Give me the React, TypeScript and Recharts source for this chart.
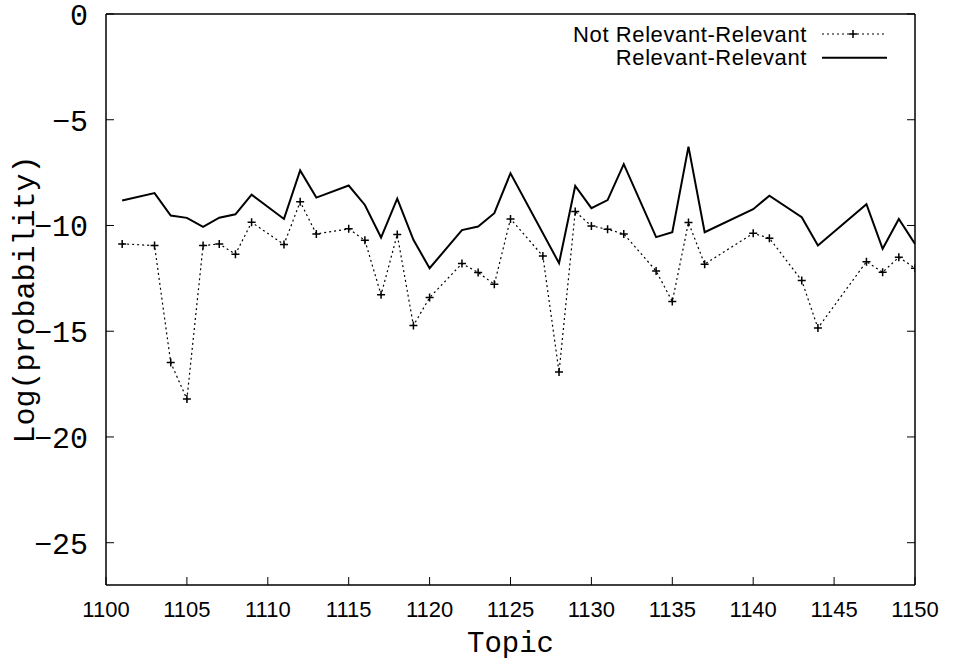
import React from 'react';
import { LineChart, Line, XAxis, YAxis, Legend } from 'recharts';

const topics = [
  1101, 1103, 1104, 1105, 1106, 1107, 1108, 1109, 1111, 1112, 1113, 1115, 1116,
  1117, 1118, 1119, 1120, 1122, 1123, 1124, 1125, 1127, 1128, 1129, 1130, 1131,
  1132, 1134, 1135, 1136, 1137, 1140, 1141, 1143, 1144, 1147, 1148, 1149, 1150,
];

const notRelevant = [
  -10.87, -10.95, -16.48, -18.21, -10.95, -10.87, -11.36, -9.85, -10.9, -8.88, -10.4, -10.16, -10.7,
  -13.28, -10.43, -14.73, -13.41, -11.8, -12.22, -12.78, -9.69, -11.44, -16.93, -9.34, -10.02, -10.18,
  -10.4, -12.15, -13.6, -9.86, -11.83, -10.37, -10.6, -12.6, -14.85, -11.71, -12.21, -11.5, -12.02,
];

const relevant = [
  -8.82, -8.47, -9.53, -9.64, -10.07, -9.63, -9.47, -8.54, -9.69, -7.4, -8.68, -8.11, -9.03,
  -10.57, -8.73, -10.68, -12.02, -10.22, -10.05, -9.42, -7.53, null, -11.78, -8.13, -9.18, -8.8,
  -7.1, -10.55, -10.32, -6.27, -10.32, -9.23, -8.59, -9.61, -10.95, -8.99, -11.1, -9.69, -10.87,
];

const xTicks = [1100, 1105, 1110, 1115, 1120, 1125, 1130, 1135, 1140, 1145, 1150];
const yTicks = [0, -5, -10, -15, -20, -25];

const seriesNames = ['Not Relevant-Relevant', 'Relevant-Relevant'];

const data = topics.map((t, i) => ({ topic: t, notRel: notRelevant[i], rel: relevant[i] }));

const mono = '"Liberation Mono", "DejaVu Sans Mono", monospace';
const sans = '"Liberation Sans", Arial, sans-serif';
const TICK = 8;

const PlusDot = (props: any) => {
  const { cx, cy } = props;
  if (cx == null || cy == null) return null;
  return (
    <path
      d={`M${cx - 4},${cy}H${cx + 4}M${cx},${cy - 4}V${cy + 4}`}
      stroke="#000"
      strokeWidth={1.5}
      fill="none"
    />
  );
};

// bottom ticks: inward tick line + label below
const BottomTick = (props: any) => {
  const { x, y, payload } = props;
  return (
    <g>
      <line x1={x} x2={x} y1={y} y2={y - TICK} stroke="#000" strokeWidth={1} />
      <text x={x} y={y + 32} textAnchor="middle" fontFamily={sans} fontSize={22} fill="#000">
        {payload.value}
      </text>
    </g>
  );
};

const LeftTick = (props: any) => {
  const { x, y, payload } = props;
  return (
    <g>
      <line x1={x} x2={x + TICK} y1={y} y2={y} stroke="#000" strokeWidth={1} />
      <text x={x - 18} y={y} dy="0.36em" textAnchor="end" fontFamily={mono} fontSize={30} fill="#000">
        {String(payload.value).replace('-', '\u2212')}
      </text>
    </g>
  );
};

const TopTick = (props: any) => {
  const { x, y } = props;
  return <line x1={x} x2={x} y1={y} y2={y + TICK} stroke="#000" strokeWidth={1} />;
};

const RightTick = (props: any) => {
  const { x, y } = props;
  return <line x1={x} x2={x - TICK} y1={y} y2={y} stroke="#000" strokeWidth={1} />;
};

const renderLegend = () => (
  <svg width={360} height={60} style={{ display: 'block' }}>
    <text x={247} y={26.7} textAnchor="end" fontFamily={sans} fontSize={22} letterSpacing={0.6} fill="#000">
      {seriesNames[0]}
    </text>
    <line x1={262} x2={326} y1={19} y2={19} stroke="#000" strokeWidth={1.2} strokeDasharray="2 3" />
    <path d="M289,19H297M293,15V23" stroke="#000" strokeWidth={1.5} />
    <text x={247} y={50} textAnchor="end" fontFamily={sans} fontSize={22} letterSpacing={0.6} fill="#000">
      {seriesNames[1]}
    </text>
    <line x1={262} x2={327} y1={42.7} y2={42.7} stroke="#000" strokeWidth={2} />
  </svg>
);

export default function App() {
  return (
    <div style={{ position: 'absolute', left: 0, top: 0, background: '#fff' }}>
      <LineChart width={953} height={668} data={data} margin={{ top: 13, right: 37, left: 0, bottom: 0 }}>
        <XAxis
          dataKey="topic"
          type="number"
          domain={[1100, 1150]}
          ticks={xTicks}
          interval={0}
          allowDataOverflow
          height={83}
          stroke="#000"
          strokeWidth={1.5}
          tickLine={false}
          tickSize={0}
          tickMargin={0}
          tick={<BottomTick />}
          label={{ value: 'Topic', position: 'insideBottom', offset: 16, fill: '#000', fontSize: 29, fontFamily: mono }}
        />
        <XAxis
          xAxisId="top"
          orientation="top"
          type="number"
          domain={[1100, 1150]}
          ticks={xTicks}
          interval={0}
          allowDataOverflow
          height={1}
          stroke="#000"
          strokeWidth={1.5}
          tickLine={false}
          tickSize={0}
          tickMargin={0}
          tick={<TopTick />}
        />
        <YAxis
          type="number"
          domain={[-27, 0]}
          ticks={yTicks}
          interval={0}
          allowDataOverflow
          width={106}
          stroke="#000"
          strokeWidth={1.5}
          tickLine={false}
          tickSize={0}
          tickMargin={0}
          tick={<LeftTick />}
          label={{ value: 'Log(probability)', angle: -90, position: 'center', dx: -30, fill: '#000', fontSize: 30, fontFamily: mono }}
        />
        <YAxis
          yAxisId="right"
          orientation="right"
          type="number"
          domain={[-27, 0]}
          ticks={yTicks}
          interval={0}
          allowDataOverflow
          width={1}
          stroke="#000"
          strokeWidth={1.5}
          tickLine={false}
          tickSize={0}
          tickMargin={0}
          tick={<RightTick />}
        />
        <Legend
          layout="horizontal"
          verticalAlign="middle"
          align="center"
          content={renderLegend}
          wrapperStyle={{ top: 15, left: 560, width: 360, height: 60 }}
        />
        <Line
          dataKey="notRel"
          name={seriesNames[0]}
          stroke="#000"
          strokeWidth={1.2}
          strokeDasharray="2 3"
          dot={<PlusDot />}
          activeDot={false}
          type="linear"
          connectNulls
          isAnimationActive={false}
        />
        <Line
          dataKey="rel"
          name={seriesNames[1]}
          stroke="#000"
          strokeWidth={2}
          dot={false}
          activeDot={false}
          type="linear"
          connectNulls
          isAnimationActive={false}
        />
      </LineChart>
    </div>
  );
}
